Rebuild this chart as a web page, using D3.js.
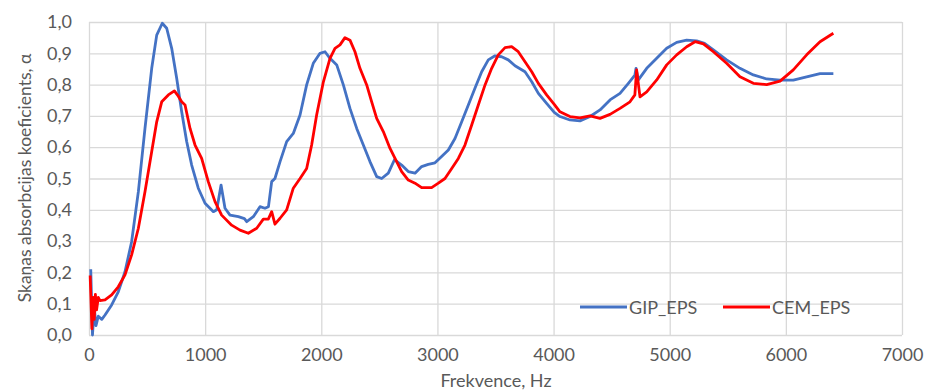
<!DOCTYPE html>
<html>
<head>
<meta charset="utf-8">
<script src="https://cdn.jsdelivr.net/npm/d3@7"></script>
<style>
  body { margin: 0; background: #fff; }
  svg { display: block; }
</style>
</head>
<body>
<div id="chart"></div>
<script>
// frequency (Hz), absorption coefficient
const gipFreq = [15, 30, 45, 60, 80, 110, 138, 195, 252, 310, 367, 425, 482, 540, 583, 631, 669, 712, 755, 798, 841, 884, 941, 999, 1071, 1100, 1137, 1171, 1214, 1286, 1338, 1358, 1415, 1472, 1515, 1545, 1573, 1601, 1645, 1702, 1759, 1817, 1874, 1931, 1989, 2032, 2075, 2133, 2190, 2247, 2305, 2362, 2419, 2477, 2520, 2577, 2630, 2692, 2749, 2807, 2864, 2921, 2979, 3036, 3094, 3151, 3209, 3266, 3323, 3381, 3438, 3496, 3553, 3610, 3668, 3754, 3812, 3869, 3940, 4006, 4055, 4141, 4227, 4314, 4400, 4486, 4572, 4644, 4700, 4710, 4730, 4802, 4888, 4974, 5060, 5146, 5232, 5300, 5376, 5490, 5605, 5720, 5835, 5950, 6064, 6179, 6294, 6409];
const gipAlpha = [0.21, 0.0, 0.09, 0.03, 0.06, 0.05, 0.064, 0.096, 0.138, 0.202, 0.298, 0.458, 0.66, 0.852, 0.958, 0.996, 0.98, 0.916, 0.82, 0.713, 0.618, 0.543, 0.469, 0.421, 0.394, 0.40, 0.479, 0.405, 0.383, 0.378, 0.372, 0.362, 0.378, 0.41, 0.405, 0.41, 0.49, 0.50, 0.554, 0.618, 0.644, 0.703, 0.799, 0.868, 0.90, 0.905, 0.884, 0.863, 0.799, 0.724, 0.66, 0.607, 0.554, 0.506, 0.50, 0.517, 0.56, 0.543, 0.522, 0.517, 0.538, 0.545, 0.55, 0.57, 0.591, 0.628, 0.681, 0.735, 0.788, 0.841, 0.879, 0.892, 0.889, 0.879, 0.86, 0.841, 0.809, 0.772, 0.74, 0.711, 0.698, 0.687, 0.684, 0.698, 0.719, 0.751, 0.772, 0.804, 0.83, 0.852, 0.815, 0.852, 0.884, 0.916, 0.935, 0.942, 0.94, 0.932, 0.911, 0.879, 0.852, 0.831, 0.818, 0.814, 0.814, 0.825, 0.835, 0.835];

const cemFreq = [10, 25, 35, 45, 55, 65, 80, 95, 138, 195, 252, 310, 367, 425, 482, 540, 583, 626, 683, 735, 769, 798, 827, 870, 913, 970, 1027, 1085, 1142, 1228, 1300, 1372, 1444, 1501, 1544, 1573, 1601, 1645, 1702, 1759, 1817, 1874, 1917, 1960, 2018, 2075, 2118, 2161, 2204, 2247, 2290, 2333, 2391, 2434, 2477, 2534, 2592, 2635, 2692, 2749, 2807, 2864, 2950, 3008, 3065, 3123, 3180, 3237, 3295, 3352, 3410, 3467, 3524, 3582, 3639, 3696, 3754, 3812, 3869, 3940, 4006, 4055, 4141, 4227, 4314, 4400, 4486, 4572, 4658, 4700, 4715, 4744, 4802, 4888, 4974, 5060, 5146, 5218, 5290, 5376, 5490, 5605, 5720, 5835, 5950, 6064, 6179, 6294, 6409];
const cemAlpha = [0.19, 0.02, 0.12, 0.05, 0.13, 0.08, 0.12, 0.11, 0.112, 0.128, 0.154, 0.192, 0.256, 0.341, 0.458, 0.586, 0.681, 0.745, 0.767, 0.78, 0.763, 0.745, 0.735, 0.66, 0.607, 0.564, 0.49, 0.426, 0.383, 0.351, 0.335, 0.325, 0.341, 0.37, 0.37, 0.394, 0.354, 0.373, 0.40, 0.469, 0.50, 0.532, 0.607, 0.703, 0.809, 0.884, 0.916, 0.927, 0.95, 0.942, 0.905, 0.852, 0.799, 0.745, 0.692, 0.65, 0.596, 0.564, 0.522, 0.495, 0.485, 0.471, 0.471, 0.485, 0.50, 0.532, 0.564, 0.607, 0.671, 0.735, 0.799, 0.852, 0.895, 0.918, 0.921, 0.905, 0.873, 0.841, 0.804, 0.767, 0.737, 0.713, 0.698, 0.694, 0.70, 0.692, 0.705, 0.724, 0.745, 0.767, 0.847, 0.761, 0.777, 0.815, 0.863, 0.895, 0.921, 0.937, 0.93, 0.905, 0.868, 0.825, 0.804, 0.80, 0.811, 0.847, 0.895, 0.937, 0.964];

const xTicks = [0, 1000, 2000, 3000, 4000, 5000, 6000, 7000];
const yTicks = [0, 0.1, 0.2, 0.3, 0.4, 0.5, 0.6, 0.7, 0.8, 0.9, 1.0];
const seriesNames = ['GIP_EPS', 'CEM_EPS'];

const W = 928, H = 391;
const margin = { top: 22, right: 26, bottom: 56, left: 89 };
const width = W - margin.left - margin.right;
const height = H - margin.top - margin.bottom;
const font = 'Lato, sans-serif';
const txt = '#595959';
const grid = '#d9d9d9';

const svg = d3.select('#chart').append('svg')
  .attr('width', W)
  .attr('height', H);

const g = svg.append('g')
  .attr('transform', `translate(${margin.left},${margin.top})`);

const x = d3.scaleLinear().domain([0, 7000]).range([0, width]);
const y = d3.scaleLinear().domain([0, 1]).range([height, 0]);

// grid
g.append('g')
  .call(d3.axisLeft(y).tickValues(yTicks).tickSize(-width).tickFormat(''))
  .call(s => s.select('.domain').remove())
  .selectAll('line').attr('stroke', grid).attr('stroke-width', 1.3);

g.append('g')
  .attr('transform', `translate(0,${height})`)
  .call(d3.axisBottom(x).tickValues(xTicks).tickSize(-height).tickFormat(''))
  .call(s => s.select('.domain').remove())
  .selectAll('line').attr('stroke', grid).attr('stroke-width', 1.3);

// y tick labels
g.append('g')
  .call(d3.axisLeft(y).tickValues(yTicks).tickSize(0).tickPadding(17)
    .tickFormat(d => d3.format('.1f')(d).replace('.', ',')))
  .call(s => s.select('.domain').remove())
  .selectAll('text')
  .attr('fill', txt)
  .style('font-family', font)
  .style('font-size', '18px');

// x tick labels
g.append('g')
  .attr('transform', `translate(0,${height})`)
  .call(d3.axisBottom(x).tickValues(xTicks).tickSize(0).tickPadding(13)
    .tickFormat(d3.format('d')))
  .call(s => s.select('.domain').remove())
  .selectAll('text')
  .attr('fill', txt)
  .style('font-family', font)
  .style('font-size', '18px');

const line = d3.line()
  .x(d => x(d[0]))
  .y(d => y(d[1]));

const gip = gipFreq.map((f, i) => [f, gipAlpha[i]]);
const cem = cemFreq.map((f, i) => [f, cemAlpha[i]]);

g.append('path')
  .datum(gip)
  .attr('fill', 'none')
  .attr('stroke', '#4472C4')
  .attr('stroke-width', 2.8)
  .attr('stroke-linejoin', 'round')
  .attr('d', line);

g.append('path')
  .datum(cem)
  .attr('fill', 'none')
  .attr('stroke', '#FF0000')
  .attr('stroke-width', 2.8)
  .attr('stroke-linejoin', 'round')
  .attr('d', line);

// axis titles
svg.append('text')
  .attr('x', 496)
  .attr('y', 386.5)
  .attr('text-anchor', 'middle')
  .attr('fill', txt)
  .style('font-family', font)
  .style('font-size', '18px')
  .text('Frekvence, Hz');

svg.append('text')
  .attr('transform', 'translate(31,178) rotate(-90)')
  .attr('text-anchor', 'middle')
  .attr('fill', txt)
  .style('font-family', font)
  .style('font-size', '17.5px')
  .text('Skaņas absorbcijas koeficients, α');

// legend
const legend = svg.append('g').attr('transform', 'translate(580,307)');
const colors = ['#4472C4', '#FF0000'];
seriesNames.forEach((name, i) => {
  const lg = legend.append('g').attr('transform', `translate(${i * 143},0)`);
  lg.append('line')
    .attr('x1', 0).attr('x2', 47)
    .attr('y1', 0).attr('y2', 0)
    .attr('stroke', colors[i])
    .attr('stroke-width', 2.8);
  lg.append('text')
    .attr('x', 49)
    .attr('y', 6.5)
    .attr('fill', txt)
    .style('font-family', font)
    .style('font-size', '18px')
    .text(name);
});
</script>
</body>
</html>
